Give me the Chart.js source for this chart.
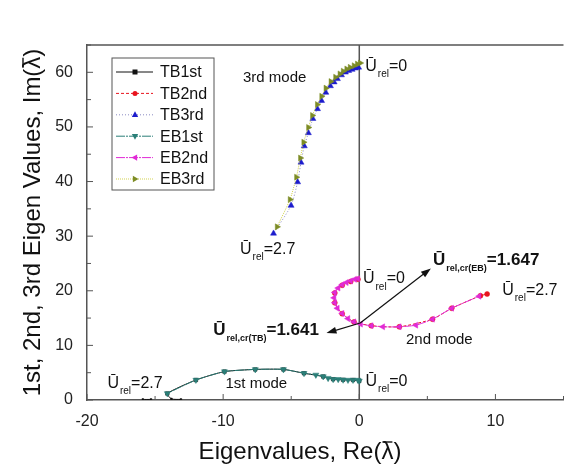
<!DOCTYPE html>
<html>
<head>
<meta charset="utf-8">
<script src="https://cdn.jsdelivr.net/npm/chart.js@4"></script>
<style>
  html, body { margin: 0; padding: 0; background: #fff; }
  #wrap { width: 568px; height: 472px; }
</style>
</head>
<body>
<div id="wrap"><canvas id="chart" width="568" height="472"></canvas></div>
<script>
// series names (legend order)
const seriesNames = ['TB1st', 'TB2nd', 'TB3rd', 'EB1st', 'EB2nd', 'EB3rd'];

// 1st mode: Re / Im of eigenvalue (null = break in line)
const tb1Re = [0, -0.46, -1.19, -1.92, -2.65, -4.06, -5.57, -7.64, -9.9, -12.0, -14.1, -13.8, -13.1, -14.5, -15.3, -15.9];
const tb1Im = [3.5, 3.66, 3.7, 3.8, 4.3, 4.9, 5.6, 5.6, 5.2, 3.66, 1.2, 0.2, 0.1, null, 0.1, 0.1];
const eb1Re = [0, -0.1, -0.46, -0.83, -1.19, -1.55, -1.92, -2.29, -2.65, -3.19, -4.06, -5.57, -7.64, -9.9, -12.0, -14.1];
const eb1Im = [3.5, 3.66, 3.66, 3.66, 3.7, 3.8, 3.8, 4.0, 4.3, 4.6, 4.9, 5.6, 5.6, 5.2, 3.66, 1.2];

// 2nd mode
const tb2Re = [-0.1, -0.63, -1.26, -1.8, -1.8, -1.26, -0.39, 0.88, 2.94, 5.38, 6.79, 8.9, 9.39];
const tb2Im = [22.1, 21.7, 21.0, 19.6, 17.8, 15.8, 14.3, 13.6, 13.4, 14.8, 16.8, 19.1, 19.4];
const eb2Re = [-0.1, -0.34, -0.63, -0.95, -1.26, -1.55, -1.8, -1.85, -1.8, -1.61, -1.26, -0.83, -0.39, 0.1, 0.88, 1.73, 2.94, 4.16, 5.38, 6.79, 8.8];
const eb2Im = [22.2, 22.1, 21.8, 21.5, 21.1, 20.5, 19.7, 18.7, 17.8, 16.8, 15.85, 14.9, 14.3, 13.9, 13.6, 13.4, 13.4, 13.7, 14.8, 16.8, 19.0];

// 3rd mode
const tb3Re = [-0.05, -0.29, -0.53, -0.78, -1.02, -1.31, -1.61, -1.85, -2.12, -2.46, -2.77, -3.07, -3.41, -3.74, -4.04, -4.28, -4.53, -5.01, -6.3];
const tb3Im = [60.9, 60.75, 60.5, 60.3, 60.0, 59.5, 58.8, 58.2, 57.5, 56.3, 54.8, 53.3, 51.5, 48.9, 46.5, 43.5, 39.9, 35.6, 30.5];
const eb3Re = [0.07, -0.15, -0.39, -0.68, -0.93, -1.19, -1.43, -1.75, -2.09, -2.46, -2.77, -3.09, -3.45, -3.74, -4.09, -4.33, -4.62, -5.09, -6.04];
const eb3Im = [61.7, 61.5, 61.2, 60.9, 60.6, 60.2, 59.7, 59.1, 58.3, 57.1, 55.6, 54.1, 52.1, 49.9, 47.2, 44.3, 40.8, 36.7, 31.7];

// axis ranges / ticks
const xMin = -20, xMax = 15, yMin = 0, yMax = 65, tickStep = 5;

const FONT = "'Liberation Sans', Arial, sans-serif";

function pts(xs, ys) {
  return xs.map((x, i) => ({ x: x, y: ys[i] }));
}

const looks = [
  { color: '#111111', line: '#111111', point: 'rect', rot: 0, dash: [], r: 2.5 },
  { color: '#e8141e', line: '#e8141e', point: 'circle', rot: 0, dash: [3, 2], r: 2.5 },
  { color: '#1c1ccc', line: 'rgba(90,90,170,0.7)', point: 'triangle', rot: 0, dash: [1, 2], r: 3.5 },
  { color: '#2b7f78', line: '#2b7f78', point: 'triangle', rot: 180, dash: [9, 1, 2, 1], r: 3.5 },
  { color: '#e12ad6', line: '#e12ad6', point: 'triangle', rot: 270, dash: [9, 1, 2, 1], r: 3.5 },
  { color: '#7d8c25', line: 'rgba(205,205,60,0.9)', point: 'triangle', rot: 90, dash: [1, 1], r: 3.5 }
];
const seriesData = [
  pts(tb1Re, tb1Im), pts(tb2Re, tb2Im), pts(tb3Re, tb3Im),
  pts(eb1Re, eb1Im), pts(eb2Re, eb2Im), pts(eb3Re, eb3Im)
];

const datasets = seriesNames.map((name, i) => ({
  label: name,
  data: seriesData[i],
  showLine: true,
  borderColor: looks[i].line,
  borderWidth: 1,
  borderDash: looks[i].dash,
  backgroundColor: looks[i].color,
  pointBorderColor: looks[i].color,
  pointBackgroundColor: looks[i].color,
  pointStyle: looks[i].point,
  pointRotation: looks[i].rot,
  pointRadius: c => (c.raw && c.raw.y !== null && c.raw.y < 0.5 ? 1.2 : looks[i].r),
  pointBorderWidth: 0.5,
  tension: 0.2,
  spanGaps: false,
  order: i < 3 ? 1 : 0
}));

function marker(ctx, look, x, y) {
  ctx.save();
  ctx.translate(x, y);
  ctx.rotate(look.rot * Math.PI / 180);
  ctx.fillStyle = look.color;
  const r = look.r;
  ctx.beginPath();
  if (look.point === 'rect') {
    ctx.rect(-r, -r, 2 * r, 2 * r);
  } else if (look.point === 'circle') {
    ctx.arc(0, 0, r, 0, Math.PI * 2);
  } else {
    ctx.moveTo(0, -r);
    ctx.lineTo(r * 0.9, r * 0.6);
    ctx.lineTo(-r * 0.9, r * 0.6);
    ctx.closePath();
  }
  ctx.fill();
  ctx.restore();
}

// text ending in "(λ)" with a bar drawn over the λ, centred at 0,0
function lambdaTitle(ctx, head) {
  const full = head + '\u03BB)';
  const w = ctx.measureText(full).width;
  const x0 = -w / 2;
  ctx.textAlign = 'left';
  ctx.fillText(full, x0, 0);
  const lx = x0 + ctx.measureText(head).width;
  const lw = ctx.measureText('\u03BB').width;
  ctx.strokeStyle = '#111';
  ctx.lineWidth = 1.4;
  ctx.beginPath();
  ctx.moveTo(lx + 1, -10);
  ctx.lineTo(lx + lw - 1, -10);
  ctx.stroke();
}

// Ū with a subscript, then the rest of the label
function urel(ctx, x, y, sub, rest, bold) {
  const w = bold ? 'bold ' : '';
  const big = bold ? 17 : 16;
  ctx.textAlign = 'left';
  ctx.textBaseline = 'middle';
  ctx.fillStyle = '#111';
  ctx.font = w + big + 'px ' + FONT;
  ctx.fillText('Ū', x, y);
  let cx = x + ctx.measureText('Ū').width + 1;
  ctx.font = w + (bold ? 9 : 10) + 'px ' + FONT;
  ctx.fillText(sub, cx, y + 8);
  cx += ctx.measureText(sub).width;
  ctx.font = w + big + 'px ' + FONT;
  ctx.fillText(rest, cx, y);
}

function arrow(ctx, x0, y0, x1, y1) {
  const a = Math.atan2(y1 - y0, x1 - x0);
  ctx.strokeStyle = '#111';
  ctx.fillStyle = '#111';
  ctx.lineWidth = 1.2;
  ctx.setLineDash([]);
  ctx.beginPath();
  ctx.moveTo(x0, y0);
  ctx.lineTo(x1 - 6 * Math.cos(a), y1 - 6 * Math.sin(a));
  ctx.stroke();
  ctx.beginPath();
  ctx.moveTo(x1, y1);
  ctx.lineTo(x1 - 10 * Math.cos(a) + 3.5 * Math.sin(a), y1 - 10 * Math.sin(a) - 3.5 * Math.cos(a));
  ctx.lineTo(x1 - 10 * Math.cos(a) - 3.5 * Math.sin(a), y1 - 10 * Math.sin(a) + 3.5 * Math.cos(a));
  ctx.closePath();
  ctx.fill();
}

const framePlugin = {
  id: 'frame',
  beforeDatasetsDraw(chart) {
    const { ctx, chartArea: a, scales: { x, y } } = chart;
    ctx.save();
    ctx.strokeStyle = '#555';
    ctx.lineWidth = 1.5;
    // top border and Re = 0 line
    ctx.beginPath();
    ctx.moveTo(a.left, a.top);
    ctx.lineTo(a.right, a.top);
    const x0 = x.getPixelForValue(0);
    ctx.moveTo(x0, a.top);
    ctx.lineTo(x0, a.bottom);
    ctx.stroke();
    // inward ticks
    ctx.lineWidth = 1;
    ctx.beginPath();
    x.ticks.forEach(t => {
      const px = x.getPixelForValue(t.value);
      const len = t.value % 10 === 0 ? 6 : 4;
      ctx.moveTo(px, a.bottom);
      ctx.lineTo(px, a.bottom - len);
    });
    y.ticks.forEach(t => {
      const py = y.getPixelForValue(t.value);
      const len = t.value % 10 === 0 ? 6 : 4;
      ctx.moveTo(a.left, py);
      ctx.lineTo(a.left + len, py);
    });
    ctx.stroke();
    ctx.restore();
  },
  afterDraw(chart) {
    const { ctx, chartArea: a, scales: { x, y } } = chart;
    const P = (vx, vy) => [x.getPixelForValue(vx), y.getPixelForValue(vy)];
    ctx.save();

    // axis titles
    ctx.fillStyle = '#111';
    ctx.font = '24px ' + FONT;
    ctx.textBaseline = 'middle';
    ctx.save();
    ctx.translate(300, 452);
    lambdaTitle(ctx, 'Eigenvalues, Re(');
    ctx.restore();
    ctx.save();
    ctx.translate(33, (a.top + a.bottom) / 2);
    ctx.rotate(-Math.PI / 2);
    lambdaTitle(ctx, '1st, 2nd, 3rd Eigen Values, Im(');
    ctx.restore();

    // mode labels
    ctx.font = '15px ' + FONT;
    ctx.textAlign = 'left';
    let p = P(-8.54, 59.0); ctx.fillText('3rd mode', p[0], p[1]);
    p = P(3.43, 11.0); ctx.fillText('2nd mode', p[0], p[1]);
    p = P(-9.83, 2.9); ctx.fillText('1st mode', p[0], p[1]);

    // U_rel labels
    p = P(0.44, 61.1); urel(ctx, p[0], p[1], 'rel', '=0', false);
    p = P(-8.76, 27.6); urel(ctx, p[0], p[1], 'rel', '=2.7', false);
    p = P(0.27, 22.2); urel(ctx, p[0], p[1], 'rel', '=0', false);
    p = P(10.5, 20.1); urel(ctx, p[0], p[1], 'rel', '=2.7', false);
    p = P(-18.5, 3.0); urel(ctx, p[0], p[1], 'rel', '=2.7', false);
    p = P(0.46, 3.35); urel(ctx, p[0], p[1], 'rel', '=0', false);
    p = P(5.42, 25.6); urel(ctx, p[0], p[1], 'rel,cr(EB)', '=1.647', true);
    p = P(-10.73, 12.7); urel(ctx, p[0], p[1], 'rel,cr(TB)', '=1.641', true);

    // arrows from the crossing point
    const c = P(0.07, 14.1);
    let t = P(5.26, 24.1); arrow(ctx, c[0], c[1], t[0], t[1]);
    t = P(-2.41, 12.25); arrow(ctx, c[0], c[1], t[0], t[1]);

    // legend box
    const bx = a.left + 25, by = a.top + 13, bw = 102, bh = 132;
    ctx.fillStyle = '#fff';
    ctx.fillRect(bx, by, bw, bh);
    ctx.strokeStyle = '#555';
    ctx.lineWidth = 1;
    ctx.setLineDash([]);
    ctx.strokeRect(bx, by, bw, bh);
    seriesNames.forEach((name, i) => {
      const ly = by + 14 + i * 21.4;
      const lk = looks[i];
      ctx.strokeStyle = lk.line;
      ctx.lineWidth = 1;
      ctx.setLineDash(lk.dash);
      ctx.beginPath();
      ctx.moveTo(bx + 4, ly);
      ctx.lineTo(bx + 41, ly);
      ctx.stroke();
      ctx.setLineDash([]);
      marker(ctx, lk, bx + 23, ly);
      ctx.fillStyle = '#111';
      ctx.font = '16px ' + FONT;
      ctx.textAlign = 'left';
      ctx.textBaseline = 'middle';
      ctx.fillText(name, bx + 48, ly + 1);
    });
    ctx.restore();
  }
};

new Chart(document.getElementById('chart').getContext('2d'), {
  type: 'scatter',
  data: { datasets: datasets },
  options: {
    responsive: false,
    animation: false,
    layout: { padding: { top: 45, right: 0, left: 0, bottom: 0 } },
    plugins: { legend: { display: false }, tooltip: { enabled: false } },
    scales: {
      x: {
        type: 'linear', min: xMin, max: xMax,
        grid: { display: false },
        border: { display: true, color: '#555', width: 1.5 },
        ticks: {
          stepSize: tickStep, autoSkip: false, maxRotation: 0, padding: 4,
          color: '#222', font: { family: FONT, size: 16 },
          callback: v => (v % 10 === 0 ? String(v) : '')
        },
        afterFit: s => { s.height = 72; }
      },
      y: {
        type: 'linear', min: yMin, max: yMax,
        grid: { display: false },
        border: { display: true, color: '#555', width: 1.5 },
        ticks: {
          stepSize: tickStep, autoSkip: false, padding: 6,
          color: '#222', font: { family: FONT, size: 16 },
          callback: v => (v % 10 === 0 ? String(v) : '')
        },
        afterFit: s => { s.width = 87; }
      }
    }
  },
  plugins: [framePlugin]
});
</script>
</body>
</html>
